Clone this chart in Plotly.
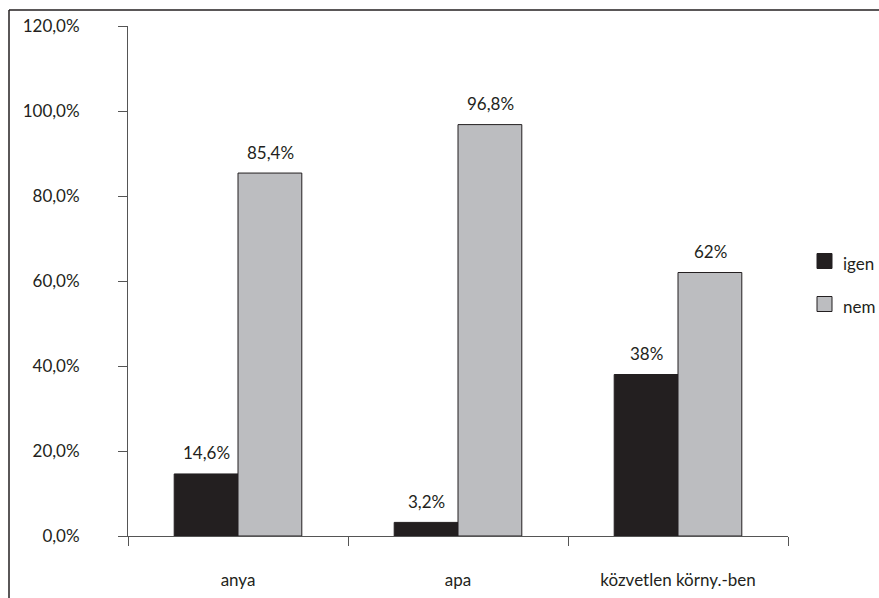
import plotly.graph_objects as go

categories = ["anya", "apa", "közvetlen körny.-ben"]
igen = [14.6, 3.2, 38]
nem = [85.4, 96.8, 62]
igen_labels = ["14,6%", "3,2%", "38%"]
nem_labels = ["85,4%", "96,8%", "62%"]
y_ticks = [0, 20, 40, 60, 80, 100, 120]
y_tick_labels = ["0,0%", "20,0%", "40,0%", "60,0%", "80,0%", "100,0%", "120,0%"]
series_names = ["igen", "nem"]
series_colors = ["#231f20", "#bcbdc0"]

FONT = "Lato, Open Sans, sans-serif"
FS = 17
W, H = 879, 598
L, T = 128, 26
R = W - 788
B = H - 536
pw, ph = W - L - R, H - T - B

fig = go.Figure()
for name, vals, col in zip(series_names, [igen, nem], series_colors):
    fig.add_bar(x=categories, y=vals, name=name, showlegend=False,
                marker=dict(color=col, line=dict(color="#231f20", width=1)))

ann = []
for i, c in enumerate(categories):
    ann.append(dict(x=c, y=igen[i], text=igen_labels[i], xref="x", yref="y", showarrow=False,
                    xshift=-32, yshift=21, font=dict(family=FONT, size=FS, color="#231f20")))
    ann.append(dict(x=c, y=nem[i], text=nem_labels[i], xref="x", yref="y", showarrow=False,
                    xshift=32, yshift=21, font=dict(family=FONT, size=FS, color="#231f20")))

# screen pixel -> paper coords
def px(x): return (x - L) / pw
def py(y): return (H - B - y) / ph

shapes = [
    dict(type="line", xref="paper", yref="paper", x0=px(9), x1=px(9), y0=py(10), y1=py(610),
         line=dict(color="#231f20", width=1.5)),
    dict(type="line", xref="paper", yref="paper", x0=px(9), x1=px(890), y0=py(10), y1=py(10),
         line=dict(color="#231f20", width=1.5)),
]

# manual legend
leg_y = [261, 304]
for name, col, yc in zip(series_names, series_colors, leg_y):
    shapes.append(dict(type="rect", xref="paper", yref="paper", x0=px(817), x1=px(832),
                       y0=py(yc - 7.5), y1=py(yc + 7.5), fillcolor=col,
                       line=dict(color="#231f20", width=1)))
    ann.append(dict(x=px(841), y=py(yc + 2), xref="paper", yref="paper", text=name, showarrow=False,
                    xanchor="left", yanchor="middle", font=dict(family=FONT, size=FS, color="#231f20")))

fig.update_layout(
    width=W, height=H,
    margin=dict(l=L, r=R, t=T, b=B, autoexpand=False),
    plot_bgcolor="white", paper_bgcolor="white",
    barmode="group", bargap=0.42, bargroupgap=0,
    font=dict(family=FONT, size=FS, color="#231f20"),
    annotations=ann, shapes=shapes, showlegend=False,
    xaxis=dict(showline=True, linecolor="#555", linewidth=1, ticks="outside", ticklen=9,
               tickcolor="#555", tickson="boundaries", showgrid=False, ticklabelstandoff=29,
               tickfont=dict(family=FONT, size=FS, color="#231f20")),
    yaxis=dict(range=[0, 120], tickvals=y_ticks, ticktext=y_tick_labels,
               showline=True, linecolor="#555", linewidth=1, ticks="outside", ticklen=9,
               tickcolor="#555", showgrid=False, zeroline=False, ticklabelstandoff=35,
               tickfont=dict(family=FONT, size=FS, color="#231f20")),
)

fig.write_html("out.html", config={"displayModeBar": False},
               post_script="document.body.style.margin='0';document.documentElement.style.overflow='hidden';")
